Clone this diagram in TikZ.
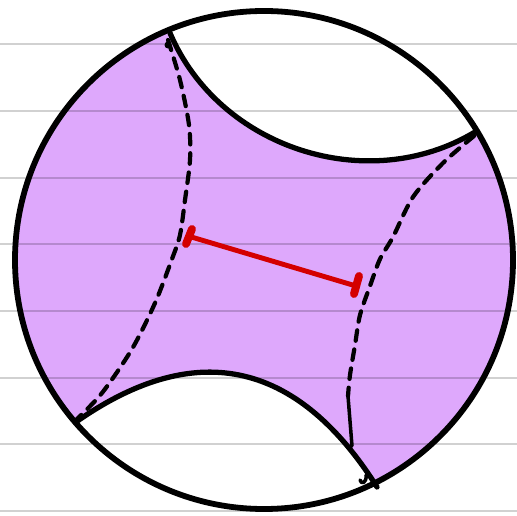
\documentclass[tikz,border=0pt]{standalone}
\usepackage{xcolor}
\usepackage{tikz}
\usetikzlibrary{calc}
\definecolor{DiskLilac}{RGB}{222,168,252}
\definecolor{SegRed}{RGB}{212,0,0}

\begin{document}
\begin{tikzpicture}[x=0.02cm, y=-0.02cm, line cap=round, line join=round]
    \useasboundingbox (0,0) rectangle (517,516);

    % Points on the boundary circle
    \coordinate (O) at (264,260);
    \coordinate (A) at (170,33);
    \coordinate (B) at (475,132);
    \coordinate (D) at (76,422);
    \coordinate (E) at (377,487);

    % Shaded region
    \fill[DiskLilac] (O) circle[radius=249];
    \begin{scope}
        \clip (O) circle[radius=249];
        \fill[white] (A) to[bend right=49] (B) -- ($(O)!3!(B)$) -- ($(O)!3!(A)$) -- cycle;
        \fill[white] (D) .. controls (200,335) and (300,365) .. (E) -- ($(O)!3!(E)$) -- ($(O)!3!(D)$) -- cycle;
    \end{scope}

    % Paper lines
    \foreach \y in {44,111,178,244,311,378,444,511}
        \draw[black, opacity=0.18, line width=0.6pt] (0,\y) -- (517,\y);

    % Boundary circle and geodesics
    \draw[line width=3.3pt] (O) circle[radius=249];
    \draw[line width=3pt] (A) to[bend right=49] (B);
    \draw[line width=3pt] (D) .. controls (200,335) and (300,365) .. (E);

    % Dashed geodesics
    \draw[line width=2.4pt, dash pattern=on 6pt off 5pt] plot[smooth] coordinates
        {(168,40) (180,80) (189,125) (190,160) (185,200) (180,235) (172,259) (155,303) (132,349) (102,393) (76,420)};
    \fill (168,45) circle[radius=3.5];
    \draw[line width=2.4pt, dash pattern=on 6pt off 5pt] plot[smooth] coordinates
        {(474,136) (443,163) (413,197) (393,237) (380,259) (370,286) (360,315) (355,345) (350,375) (348,396)};
    \draw[line width=2pt] (348,396) -- (352,446);
    \draw[line width=2pt] (366,475) .. controls (367,483) and (361,485) .. (360,480);

    % Distance segment
    \coordinate (P) at (188,236);
    \coordinate (Q) at (356,286);
    \draw[SegRed, line width=2.8pt] (P) -- (Q);
    \draw[SegRed, line width=4.5pt] (192,229) -- (186,244);
    \draw[SegRed, line width=4.5pt] (359,276) -- (354,294);
\end{tikzpicture}
\end{document}
